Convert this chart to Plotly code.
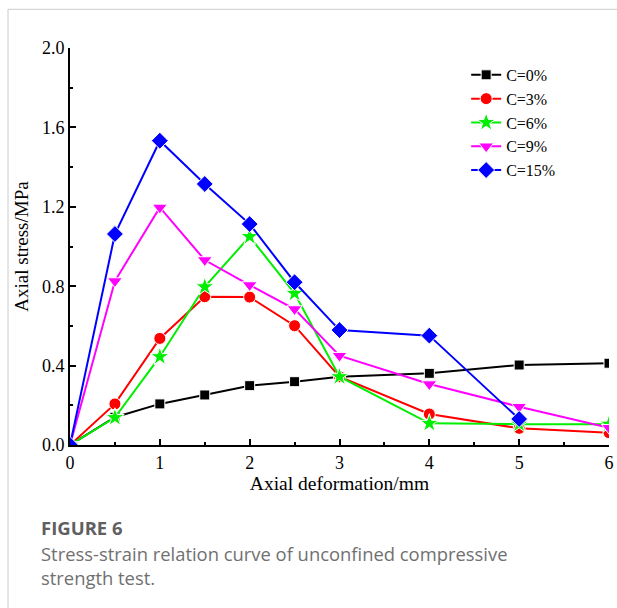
import plotly.graph_objects as go

deformation = [0, 0.5, 1, 1.5, 2, 2.5, 3, 4, 5, 6]
stress_c0 = [0, 0.14, 0.207, 0.252, 0.299, 0.319, 0.344, 0.361, 0.403, 0.412]
stress_c3 = [0, 0.207, 0.537, 0.747, 0.745, 0.601, 0.344, 0.156, 0.084, 0.062]
stress_c6 = [0, 0.138, 0.445, 0.797, 1.05, 0.764, 0.344, 0.109, 0.105, 0.105]
stress_c9 = [0, 0.826, 1.197, 0.932, 0.806, 0.685, 0.45, 0.307, 0.193, 0.087]
deformation_c15 = [0, 0.5, 1, 1.5, 2, 2.5, 3, 4, 5]
stress_c15 = [0, 1.063, 1.533, 1.315, 1.113, 0.82, 0.579, 0.551, 0.131]

series_names = ["C=0%", "C=3%", "C=6%", "C=9%", "C=15%"]
x_ticks = [0, 1, 2, 3, 4, 5, 6]
y_ticks = [0.0, 0.4, 0.8, 1.2, 1.6, 2.0]

styles = [
    ("#000000", "square", 10),
    ("#ff0000", "circle", 12),
    ("#00ee00", "star", 14),
    ("#ff00ff", "triangle-down", 13),
    ("#0000ff", "diamond", 13),
]
xs = [deformation, deformation, deformation, deformation, deformation_c15]
ys = [stress_c0, stress_c3, stress_c6, stress_c9, stress_c15]

fig = go.Figure()
for name, x, y, (col, sym, sz) in zip(series_names, xs, ys, styles):
    fig.add_trace(go.Scatter(
        x=x, y=y, name=name, mode="lines+markers",
        line=dict(color=col, width=2),
        marker=dict(symbol=sym, size=sz, color=col, line=dict(color="white", width=1)),
    ))

serif = "Liberation Serif, Times New Roman, serif"
axis_common = dict(
    showline=True, linecolor="black", linewidth=2, mirror=False,
    ticks="inside", ticklen=6, tickwidth=2, tickcolor="black",
    showgrid=False, zeroline=False, automargin=False, ticklabeloverflow="allow",
    tickfont=dict(family=serif, size=18, color="black"),
)
fig.update_xaxes(range=[0, 6], tickvals=x_ticks, ticktext=[str(v) for v in x_ticks],
                 minor=dict(ticks="inside", ticklen=3, tickwidth=2, dtick=0.5, tick0=0, tickcolor="black"),
                 title=dict(text="Axial deformation/mm", font=dict(family=serif, size=19.5, color="black"), standoff=0),
                 **axis_common)
fig.update_yaxes(range=[0, 2.0], tickvals=y_ticks, ticktext=[f"{v:.1f}" for v in y_ticks],
                 minor=dict(ticks="inside", ticklen=3, tickwidth=2, dtick=0.2, tick0=0, tickcolor="black"),
                 title=dict(text="Axial stress/MPa", font=dict(family=serif, size=19, color="black"), standoff=8),
                 **axis_common)

fig.update_layout(
    width=617, height=608,
    margin=dict(l=70, r=8, t=48, b=163),
    plot_bgcolor="white", paper_bgcolor="white",
    legend=dict(x=0.735, y=0.975, xanchor="left", yanchor="top",
                font=dict(family=serif, size=16, color="black"),
                bgcolor="rgba(0,0,0,0)", tracegroupgap=0),
    showlegend=True,
)

# page frame lines (top and left)
fig.add_shape(type="line", xref="paper", yref="paper", x0=-0.115, x1=1.02, y0=1.0975, y1=1.0975,
              line=dict(color="#cccccc", width=1))
fig.add_shape(type="line", xref="paper", yref="paper", x0=-0.115, x1=-0.115, y0=1.0975, y1=-0.42,
              line=dict(color="#cccccc", width=1))

cap_font = "Open Sans, Noto Sans, sans-serif"
fig.add_annotation(text="<b>FIGURE 6</b>", xref="paper", yref="paper", x=-0.0575, y=-0.207,
                   xanchor="left", yanchor="middle", showarrow=False,
                   font=dict(family=cap_font, size=18.5, color="#606060"))
fig.add_annotation(text="Stress-strain relation curve of unconfined compressive<br>strength test.",
                   xref="paper", yref="paper", x=-0.0575, y=-0.238,
                   xanchor="left", yanchor="top", align="left", showarrow=False,
                   font=dict(family=cap_font, size=18.4, color="#707070"))

fig.write_html("out.html")
